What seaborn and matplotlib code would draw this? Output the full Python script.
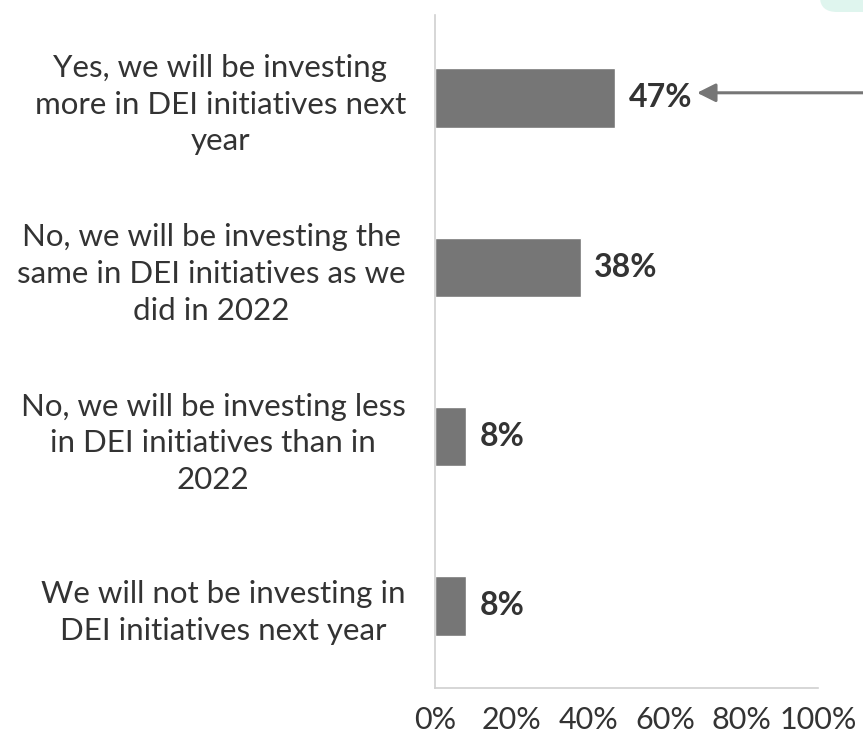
import numpy as np
import pandas as pd
import seaborn as sns
import matplotlib.pyplot as plt
from matplotlib.patches import FancyBboxPatch

# data
answers = ['Yes, we will be investing\nmore in DEI initiatives next\nyear',
           'No, we will be investing the\nsame in DEI initiatives as we\ndid in 2022',
           'No, we will be investing less\nin DEI initiatives than in\n2022',
           'We will not be investing in\nDEI initiatives next year']
shares = [47, 38, 8, 8]
xticks = [0, 20, 40, 60, 80, 100]

df = pd.DataFrame({'answer': answers, 'share': shares})

sns.set_style('white')
plt.rcParams['font.family'] = ['Lato', 'DejaVu Sans']

fig = plt.figure(figsize=(8.63, 7.45), dpi=100)
ax = fig.add_axes([0.504, 0.0765, 0.444, 0.9035])

sns.barplot(x='share', y='answer', data=df, color='#767676', saturation=1,
            width=0.35, orient='h', ax=ax)

for i, v in enumerate(shares):
    ax.text(v + 3.6, i, f'{v}%', va='center', ha='left', fontsize=23,
            fontweight='bold', color='#333333')

ax.set_xlim(0, 100)
ax.set_ylim(3.485, -0.49)
ax.set_xticks(xticks)
ax.set_xticklabels([f'{t}%' for t in xticks], fontsize=22, color='#333333')
ax.tick_params(axis='x', length=0, pad=13)
ax.tick_params(axis='y', length=0, pad=21)
for lab in ax.get_yticklabels():
    lab.set_fontsize(22.5)
    lab.set_color('#333333')
    lab.set_multialignment('center')
    lab.set_linespacing(1.38)
ax.set_xlabel('')
ax.set_ylabel('')

for s in ['top', 'right']:
    ax.spines[s].set_visible(False)
for s in ['left', 'bottom']:
    ax.spines[s].set_color('#d0d0d0')
    ax.spines[s].set_linewidth(1.2)

# callout arrow coming in from the right edge
arrow_y = -0.03
ax.annotate('', xy=(68.4, arrow_y), xycoords='data',
            xytext=(1.0, ax.transData.transform((0, arrow_y))[1] / fig.bbox.height),
            textcoords='figure fraction',
            arrowprops=dict(arrowstyle='-|>,head_length=0.7,head_width=0.35',
                            color='#767676', lw=2.2,
                            mutation_scale=16, shrinkA=0, shrinkB=0))

# partial mint box at top right corner
box = FancyBboxPatch((820 / 863, 1 - 12 / 745), 0.2, 0.1,
                     boxstyle='round,pad=0,rounding_size=0.02',
                     transform=fig.transFigure, facecolor='#dff5ee',
                     edgecolor='none', clip_on=False)
fig.patches.append(box)

fig.savefig('out.png', dpi=100)
